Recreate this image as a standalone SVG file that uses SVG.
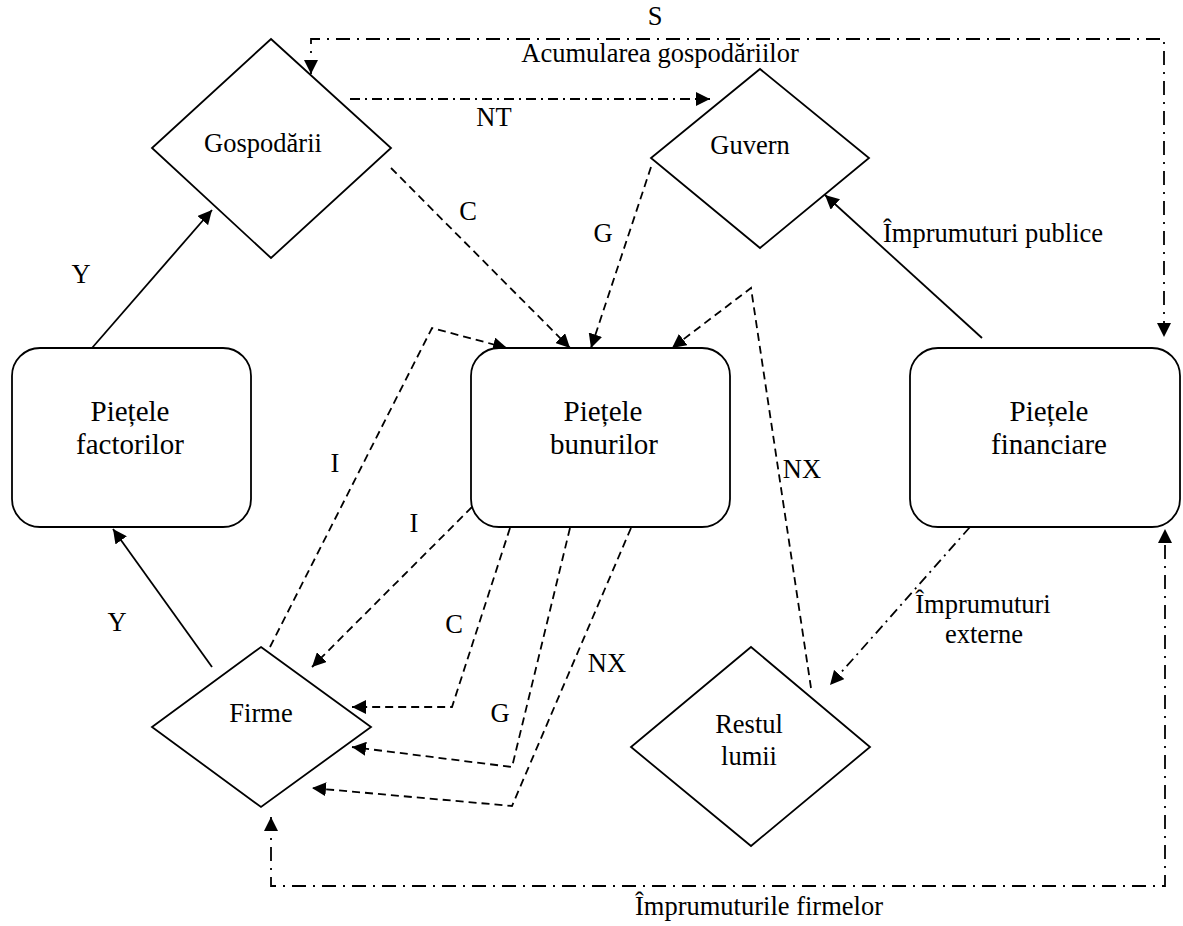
<svg xmlns="http://www.w3.org/2000/svg" width="1183" height="926" viewBox="0 0 1183 926">
<style>
.node{fill:#fff;stroke:#000;stroke-width:1.8}
.t{font-family:"Liberation Serif","Times New Roman",serif;font-size:26.5px;fill:#000;text-anchor:middle}
.tb{font-family:"Liberation Serif","Times New Roman",serif;font-size:29px;fill:#000;text-anchor:middle}
.c{fill:none;stroke:#000;stroke-width:1.8}
.dash{stroke-dasharray:8,5}
.dd{stroke-dasharray:14,7,2,7}
.nd{stroke-dasharray:10,5,2,5}
</style>
<defs>
<marker id="a" viewBox="0 0 14 14" refX="14" refY="7" markerWidth="14" markerHeight="14" markerUnits="userSpaceOnUse" orient="auto-start-reverse">
<path d="M0,0 L14,7 L0,14 z" fill="#000"/>
</marker>
</defs>
<rect width="1183" height="926" fill="#fff"/>
<g id="connectors">
<path class="c dd" d="M311,74 V39 H1164 V337" marker-start="url(#a)" marker-end="url(#a)"/>
<path class="c nd" d="M350,99 H710" marker-end="url(#a)"/>
<path class="c dash" d="M391,168 L570,348" marker-end="url(#a)"/>
<path class="c dash" d="M651,167 L591,348" marker-end="url(#a)"/>
<path class="c" d="M982,338 L825,195" marker-end="url(#a)"/>
<path class="c" d="M92,348 L212,210" marker-end="url(#a)"/>
<path class="c" d="M212,667 L113,529" marker-end="url(#a)"/>
<path class="c dash" d="M270,647 L432,328 L507,348" marker-end="url(#a)"/>
<path class="c dash" d="M811,688 L751,288 L672,348" marker-end="url(#a)"/>
<path class="c dash" d="M472,507 L312,667" marker-end="url(#a)"/>
<path class="c dash" d="M510,528 L452,707 L352,707" marker-end="url(#a)"/>
<path class="c dash" d="M570,528 L512,767 L352,747" marker-end="url(#a)"/>
<path class="c dash" d="M631,528 L512,806 L312,788" marker-end="url(#a)"/>
<path class="c nd" d="M970,527 L830,685" marker-end="url(#a)"/>
<path class="c dd" d="M271,817 V886 H1165 V529" marker-start="url(#a)" marker-end="url(#a)"/>
<text class="t" x="655" y="25">S</text>
<text class="t" x="660" y="62">Acumularea gospodăriilor</text>
<text class="t" x="494" y="126">NT</text>
<text class="t" x="468" y="220">C</text>
<text class="t" x="603" y="242">G</text>
<text class="t" x="993" y="242">Împrumuturi publice</text>
<text class="t" x="81" y="283">Y</text>
<text class="t" x="117" y="631">Y</text>
<text class="t" x="335" y="472">I</text>
<text class="t" x="414" y="532">I</text>
<text class="t" x="802" y="478">NX</text>
<text class="t" x="454" y="633">C</text>
<text class="t" x="500" y="722">G</text>
<text class="t" x="607" y="672">NX</text>
<text class="t" x="983" y="613">Împrumuturi</text>
<text class="t" x="984" y="643">externe</text>
<text class="t" x="759" y="915">Împrumuturile firmelor</text>
</g>
<g id="gospodarii">
<polygon class="node" points="271,39 391,148 271,258 152,148"/>
<text class="t" x="263" y="152">Gospodării</text>
</g>
<g id="guvern">
<polygon class="node" points="760,69 869,158 760,248 651,158"/>
<text class="t" x="750" y="154">Guvern</text>
</g>
<g id="piete-factori">
<rect class="node" x="12" y="348" width="239" height="179" rx="28"/>
<text class="tb" x="130" y="421">Piețele</text>
<text class="tb" x="130" y="454">factorilor</text>
</g>
<g id="piete-bunuri">
<rect class="node" x="471" y="348" width="259" height="179" rx="28"/>
<text class="tb" x="603" y="421">Piețele</text>
<text class="tb" x="604" y="454">bunurilor</text>
</g>
<g id="piete-financiare">
<rect class="node" x="910" y="348" width="270" height="179" rx="28"/>
<text class="tb" x="1049" y="421">Piețele</text>
<text class="tb" x="1049" y="454">financiare</text>
</g>
<g id="firme">
<polygon class="node" points="261,647 371,727 261,807 152,727"/>
<text class="t" x="261" y="722">Firme</text>
</g>
<g id="restul-lumii">
<polygon class="node" points="751,647 870,747 751,846 631,747"/>
<text class="t" x="749" y="733">Restul</text>
<text class="t" x="749" y="765">lumii</text>
</g>
</svg>
